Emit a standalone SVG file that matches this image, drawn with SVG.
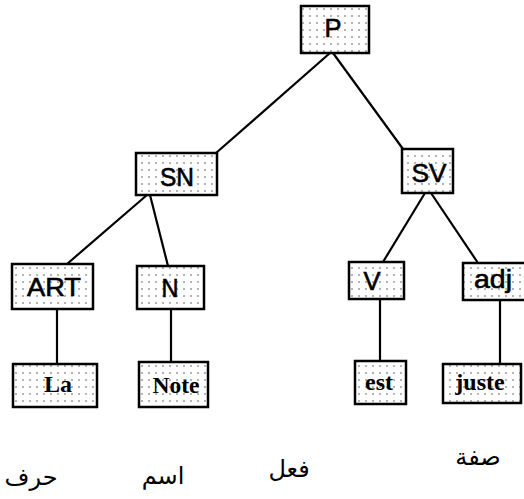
<svg xmlns="http://www.w3.org/2000/svg" width="524" height="499" viewBox="0 0 524 499">
<defs>
<pattern id="dots" x="0" y="0" width="7" height="7" patternUnits="userSpaceOnUse">
<rect width="7" height="7" fill="#ffffff"/>
<circle cx="2" cy="2" r="0.8" fill="#555"/>
</pattern>
</defs>
<style>
.box{fill:url(#dots);stroke:#000;stroke-width:2.5}
.lab{font-family:"Liberation Sans",Arial,sans-serif;font-size:25px;fill:#000;stroke:#000;stroke-width:0.6;text-anchor:middle}
.word{font-family:"Liberation Serif","Times New Roman",serif;font-size:24px;font-weight:bold;fill:#000;text-anchor:middle}
.ar{font-family:"DejaVu Sans","Noto Sans",sans-serif;font-size:24px;fill:#000;text-anchor:middle}
.edge{stroke:#000;stroke-width:2.2;fill:none}
</style>
<rect width="524" height="499" fill="#fff"/>
<g id="connectors">
<line class="edge" x1="330" y1="53" x2="216" y2="153"/>
<line class="edge" x1="333" y1="53" x2="403" y2="149"/>
<line class="edge" x1="147" y1="195" x2="67" y2="264"/>
<line class="edge" x1="150" y1="195" x2="168" y2="266"/>
<line class="edge" x1="425" y1="193" x2="383" y2="262"/>
<line class="edge" x1="431" y1="193" x2="478" y2="263"/>
<line class="edge" x1="57" y1="309" x2="57" y2="364"/>
<line class="edge" x1="171" y1="309" x2="171" y2="362"/>
<line class="edge" x1="380" y1="299" x2="380" y2="361"/>
<line class="edge" x1="500" y1="300" x2="500" y2="364"/>
</g>
<g id="node-P"><rect class="box" x="301" y="6" width="68" height="47"/><text class="lab" x="333" y="37" textLength="17" lengthAdjust="spacingAndGlyphs">P</text></g>
<g id="node-SN"><rect class="box" x="136" y="153" width="81" height="42"/><text class="lab" x="177" y="186" textLength="34" lengthAdjust="spacingAndGlyphs">SN</text></g>
<g id="node-SV"><rect class="box" x="402" y="149" width="51" height="44"/><text class="lab" x="429" y="182" textLength="35" lengthAdjust="spacingAndGlyphs">SV</text></g>
<g id="node-ART"><rect class="box" x="12" y="264" width="81" height="45"/><text class="lab" x="54" y="296" textLength="54" lengthAdjust="spacingAndGlyphs">ART</text></g>
<g id="node-N"><rect class="box" x="137" y="266" width="67" height="43"/><text class="lab" x="170" y="297" textLength="17" lengthAdjust="spacingAndGlyphs">N</text></g>
<g id="node-V"><rect class="box" x="349" y="262" width="55" height="37"/><text class="lab" x="372" y="290" textLength="17" lengthAdjust="spacingAndGlyphs">V</text></g>
<g id="node-adj"><rect class="box" x="463" y="263" width="63" height="37"/><text class="lab" x="493" y="288" textLength="38" lengthAdjust="spacingAndGlyphs">adj</text></g>
<g id="node-La"><rect class="box" x="13" y="364" width="84" height="43"/><text class="word" x="58" y="392">La</text></g>
<g id="node-Note"><rect class="box" x="139" y="362" width="69" height="45"/><text class="word" x="176" y="393" textLength="47" lengthAdjust="spacingAndGlyphs">Note</text></g>
<g id="node-est"><rect class="box" x="355" y="361" width="51" height="43"/><text class="word" x="379" y="390">est</text></g>
<g id="node-juste"><rect class="box" x="443" y="364" width="78" height="39"/><text class="word" x="480" y="390">juste</text></g>
<g id="arabic-labels">
<text class="ar" x="31" y="485">حرف</text>
<text class="ar" x="163" y="484">اسم</text>
<text class="ar" x="289" y="477">فعل</text>
<text class="ar" x="478" y="465">صفة</text>
</g>
</svg>
